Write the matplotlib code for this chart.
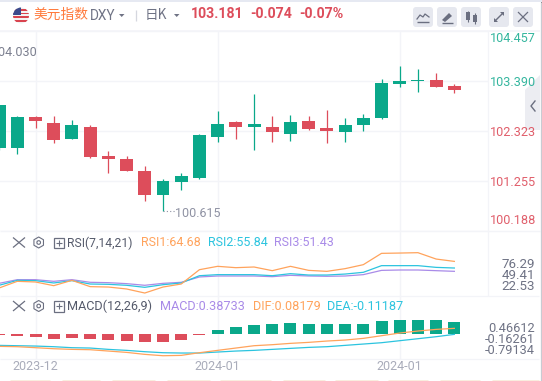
import matplotlib
matplotlib.use("Agg")
import matplotlib.pyplot as plt
from matplotlib.patches import Circle, FancyBboxPatch, Polygon, Rectangle, RegularPolygon

W, H = 542, 381
GREEN = "#0aa88a"
RED = "#dd4d5b"
GRID = "#f3f4f8"
ORANGE = "#ffa35c"
CYAN = "#2cc4df"
PURPLE = "#a98be8"
LATIN = ["Roboto", "DejaVu Sans"]
CJK = ["Noto Sans CJK SC", "DejaVu Sans"]

# daily candles
opens = [101.960, 101.960, 102.622, 102.494, 102.152, 102.408, 101.790, 101.726, 101.469, 100.957,
         101.235, 101.320, 102.195, 102.515, 102.408, 102.408, 102.259, 102.536, 102.387, 102.302,
         102.451, 102.600, 103.326, 103.390, 103.411, 103.283]
closes = [102.878, 102.622, 102.536, 102.131, 102.451, 101.768, 101.726, 101.469, 100.957, 101.256,
          101.363, 102.238, 102.472, 102.408, 102.472, 102.302, 102.515, 102.366, 102.323, 102.451,
          102.600, 103.347, 103.390, 103.411, 103.262, 103.198]
highs = [102.878, 102.643, 102.643, 102.643, 102.558, 102.451, 101.896, 101.790, 101.576, 101.299,
         101.427, 102.259, 102.750, 102.536, 103.113, 102.643, 102.664, 102.643, 102.771, 102.600,
         102.686, 103.433, 103.710, 103.646, 103.561, 103.326]
lows = [101.918, 101.832, 102.387, 102.067, 102.152, 101.747, 101.427, 101.469, 100.829, 100.615,
        101.064, 101.299, 102.088, 102.152, 101.918, 102.088, 102.110, 102.344, 102.067, 102.088,
        102.323, 102.579, 103.262, 103.155, 103.262, 103.134]

price_ticks = [104.457, 103.390, 102.323, 101.255, 100.188]

rsi1 = [29.2, 38.1, 37.2, 32.3, 39.4, 31.0, 30.5, 27.9, 22.5, 30.5, 34.5, 53.6, 58.1,
        56.3, 57.2, 52.3, 58.1, 52.7, 51.4, 55.0, 60.3, 75.4, 75.8, 76.29, 67.8, 64.68]
rsi2 = [32.8, 39.4, 39.0, 35.9, 39.0, 34.5, 34.1, 32.8, 30.1, 33.6, 35.9, 45.6, 47.0,
        47.0, 47.0, 45.6, 48.3, 46.5, 46.5, 47.8, 50.1, 59.0, 59.0, 59.0, 56.7, 55.84]
rsi3 = [35.4, 40.3, 40.3, 38.1, 40.3, 36.8, 36.3, 35.0, 32.8, 35.4, 36.8, 43.9, 45.2,
        45.2, 45.2, 44.3, 46.1, 45.2, 44.8, 45.2, 47.0, 52.7, 53.2, 53.2, 52.3, 51.43]

macd_hist = [-0.032, -0.054, -0.097, -0.151, -0.129, -0.172, -0.204, -0.237, -0.258, -0.258,
             -0.194, -0.022, 0.118, 0.226, 0.280, 0.323, 0.355, 0.323, 0.323, 0.323,
             0.323, 0.420, 0.452, 0.466, 0.452, 0.387]
dif = [-0.499, -0.510, -0.542, -0.575, -0.596, -0.607, -0.650, -0.693, -0.757, -0.801,
       -0.790, -0.704, -0.628, -0.553, -0.478, -0.445, -0.402, -0.370, -0.327, -0.295,
       -0.241, -0.155, -0.069, -0.004, 0.049, 0.082]
dea = [-0.467, -0.478, -0.489, -0.510, -0.542, -0.553, -0.596, -0.628, -0.671, -0.704,
       -0.714, -0.714, -0.682, -0.650, -0.628, -0.596, -0.564, -0.532, -0.510, -0.467,
       -0.424, -0.381, -0.316, -0.252, -0.187, -0.112]

time_ticks = [2, 12, 22]
time_labels = ["2023-12", "2024-01", "2024-01"]

PLOT_R = 487.5
XLIM = (0.05, 26.82)


def panel(fig, top, bottom, left=0, right=PLOT_R):
    ax = fig.add_axes([left / W, 1 - bottom / H, (right - left) / W, (bottom - top) / H])
    ax.set_xlim(*XLIM)
    for s in ax.spines.values():
        s.set_visible(False)
    ax.set_yticks([])
    ax.set_xticks(time_ticks)
    ax.tick_params(length=0, labelbottom=False, labelleft=False)
    ax.grid(axis="x", color=GRID, lw=1)
    ax.set_axisbelow(True)
    ax.patch.set_alpha(0)
    return ax


fig = plt.figure(figsize=(W / 100, H / 100), dpi=100, facecolor="white")

# price panel
ax = panel(fig, 31, 231)
ax.set_ylim(price_ticks[-1], price_ticks[0])
ax.set_yticks(price_ticks)
ax.grid(axis="y", color=GRID, lw=1)
idx = range(len(opens))
colors = [GREEN if c > o else RED for o, c in zip(opens, closes)]
ax.vlines(idx, lows, highs, colors=colors, lw=0.9)
ax.bar(idx, [abs(c - o) for o, c in zip(opens, closes)],
       bottom=[min(o, c) for o, c in zip(opens, closes)], width=0.71, color=colors, lw=0)
ax.plot([9, 9.7], [lows[9], lows[9]], color="#8f92a3", lw=0.8, ls=(0, (1, 2)))

# RSI panel
rsi_ax = panel(fig, 231, 295.7)
rsi_ax.set_ylim(18.93, 105.2)
rsi_ax.plot(idx, rsi3, color=PURPLE, lw=0.9)
rsi_ax.plot(idx, rsi2, color=CYAN, lw=0.9)
rsi_ax.plot(idx, rsi1, color=ORANGE, lw=0.9)

# MACD panel, the bars sit lower than the line scale in the original
macd_ax = panel(fig, 295.7, 358.7)
macd_ax.set_ylim(-0.797, 1.236)
macd_ax.bar(idx, macd_hist, width=0.66, lw=0, color=[GREEN if v > 0 else RED for v in macd_hist])
line_ax = panel(fig, 295.7, 358.7)
line_ax.set_ylim(-0.897, 1.136)
line_ax.grid(False)
line_ax.plot(idx, dea, color=CYAN, lw=0.9)
line_ax.plot(idx, dif, color=ORANGE, lw=0.9)

# everything around the panels, in pixels
ov = fig.add_axes([0, 0, 1, 1], zorder=5)
ov.set_xlim(0, W)
ov.set_ylim(H, 0)
ov.axis("off")
ov.patch.set_alpha(0)


def txt(x, y, s, color, size=9.2, ha="left", family=LATIN, **kw):
    ov.text(x, y, s, color=color, fontsize=size, ha=ha, va="center", family=family, **kw)


def line(xs, ys, color, lw=0.8):
    ov.plot(xs, ys, color=color, lw=lw, solid_capstyle="butt")


# frame lines
ov.add_patch(Rectangle((0, 0), W, 2, color="#e6e9f2", lw=0))
for y in (295.7, 358.7):
    line([0, 539], [y, y], GRID, 0.9)
line([0, 540], [31, 31], GRID, 1.2)
line([0, 540], [231, 231], GRID, 1)
line([PLOT_R, PLOT_R], [31, 296], GRID, 0.9)
line([540.5, 540.5], [2, H], "#c9cbd2", 0.9)
ov.add_patch(Rectangle((541, 2), 1, 28, color="#555555", lw=0))

# header
flag = Circle((21, 15.5), 8, color="#f2f2f2", lw=0)
ov.add_patch(flag)
for k in range(4):
    r = Rectangle((12, 9 + k * 3.6), 18, 1.8, color="#d9434e", lw=0)
    ov.add_patch(r)
    r.set_clip_path(flag)
canton = Rectangle((12, 7), 9, 8, color="#3b4a8c", lw=0)
ov.add_patch(canton)
canton.set_clip_path(flag)
txt(33, 15, "美元指数", "#ff7a3c", 9.9, family=CJK)
txt(89.5, 15.5, "DXY", "#6f7385", 9.8)
ov.add_patch(Polygon([[119, 14], [124.5, 14], [121.7, 17]], color="#6f7385", lw=0))
line([135.5, 135.5], [10, 21], "#d5d7df", 0.9)
txt(145, 14.5, "日K", "#6f7385", 9.8, family=CJK)
ov.add_patch(Polygon([[174, 14], [179.5, 14], [176.7, 17]], color="#6f7385", lw=0))
txt(190.5, 14.5, "103.181", RED, 10.2, fontweight="bold")
txt(250, 14.5, "-0.074", RED, 10.2, fontweight="bold")
txt(299.5, 14.5, "-0.07%", RED, 10.2, fontweight="bold")

for x in (413, 437, 461, 489, 513):
    ov.add_patch(FancyBboxPatch((x + 2, 9), 16, 16, boxstyle="round,pad=2,rounding_size=3",
                                color="#e6e8ef", lw=0))
ICON = "#6b6f80"
ov.plot([417, 420, 423, 425, 429], [19, 15, 17, 14, 17], color=ICON, lw=0.9)
line([417, 429], [21.5, 21.5], ICON, 1)
ov.add_patch(Polygon([[442, 20], [449, 13], [452, 16], [445, 22]], color=ICON, lw=0))
line([442, 453], [22.5, 22.5], ICON, 1)
ov.add_patch(Rectangle((466, 12), 4, 8, color=ICON, lw=0))
ov.add_patch(Rectangle((473, 15), 4, 7, color=ICON, lw=0))
line([468, 468], [10.5, 22], ICON, 0.8)
line([475, 475], [13, 24], ICON, 0.8)
line([495, 503], [21, 13], ICON, 1)
ov.add_patch(Polygon([[500, 12], [504, 12], [504, 16]], color=ICON, lw=0))
ov.add_patch(Polygon([[494, 18], [494, 22], [498, 22]], color=ICON, lw=0))
line([518, 528], [12, 22], ICON, 0.9)
line([518, 528], [22, 12], ICON, 0.9)

# price labels
txt(36.5, 53, "104.030", "#7b7f8f", 9, ha="right")
txt(174.5, 213.5, "100.615", "#8f92a3", 9)
ov.add_patch(Polygon([[525, 90], [540, 75], [540, 130], [525, 130]], color="#ecedf2", lw=0, zorder=0))
ov.plot([535, 531, 535], [101, 106, 111], color="#6b6f80", lw=1)
for y, s, c in [(39, "104.457", "#1fae94"), (82, "103.390", "#1fae94"), (132, "102.323", RED),
                (182.5, "101.255", RED), (221, "100.188", RED)]:
    txt(536, y, s, c, 9.1, ha="right", alpha=0.9)


def legend_icons(y):
    line([13, 25], [y - 5, y + 5], ICON, 0.9)
    line([13, 25], [y + 5, y - 5], ICON, 0.9)
    ov.add_patch(RegularPolygon((38.7, y), 6, radius=5.5, fill=False, ec=ICON, lw=0.8))
    ov.add_patch(Circle((38.7, y), 1.8, fill=False, ec=ICON, lw=0.8))
    ov.add_patch(Rectangle((53.5, y - 5), 10.5, 10.5, fill=False, ec=ICON, lw=0.9))
    line([56, 61.5], [y + 0.2, y + 0.2], ICON, 0.8)
    line([58.7, 58.7], [y - 2.6, y + 3], ICON, 0.8)


legend_icons(242.5)
txt(67, 243, "RSI(7,14,21)", "#555a6b", 8.7)
txt(141.5, 243, "RSI1:64.68", ORANGE, 9)
txt(208, 243, "RSI2:55.84", CYAN, 9)
txt(274, 243, "RSI3:51.43", PURPLE, 9)
for y, s in [(264.5, "76.29"), (275.7, "49.41"), (287, "22.53")]:
    txt(535, y, s, "#6f7385", 9.6, ha="right")

legend_icons(306)
txt(67, 306.5, "MACD(12,26,9)", "#555a6b", 9.1)
txt(160, 306.5, "MACD:0.38733", PURPLE, 9.1)
txt(253, 306.5, "DIF:0.08179", ORANGE, 9.1)
txt(327, 306.5, "DEA:-0.11187", CYAN, 9.1)
for y, s in [(328.7, "0.46612"), (339.5, "-0.16261"), (350.3, "-0.79134")]:
    txt(535, y, s, "#6f7385", 9.2, ha="right")

# time axis
for t, s in zip(time_ticks, time_labels):
    txt(-0.9 + 18.208 * t, 367, s, "#a9acba", 9, ha="center")

# sliver of the next widget along the bottom edge
for a, b in [(10, 50), (62, 100), (112, 155), (167, 210), (220, 271), (283, 325), (335, 378),
             (388, 428), (440, 480), (492, 539)]:
    line([a, b], [380.5, 380.5], "#e3a65b", 1)

fig.savefig("out.png", dpi=100)
